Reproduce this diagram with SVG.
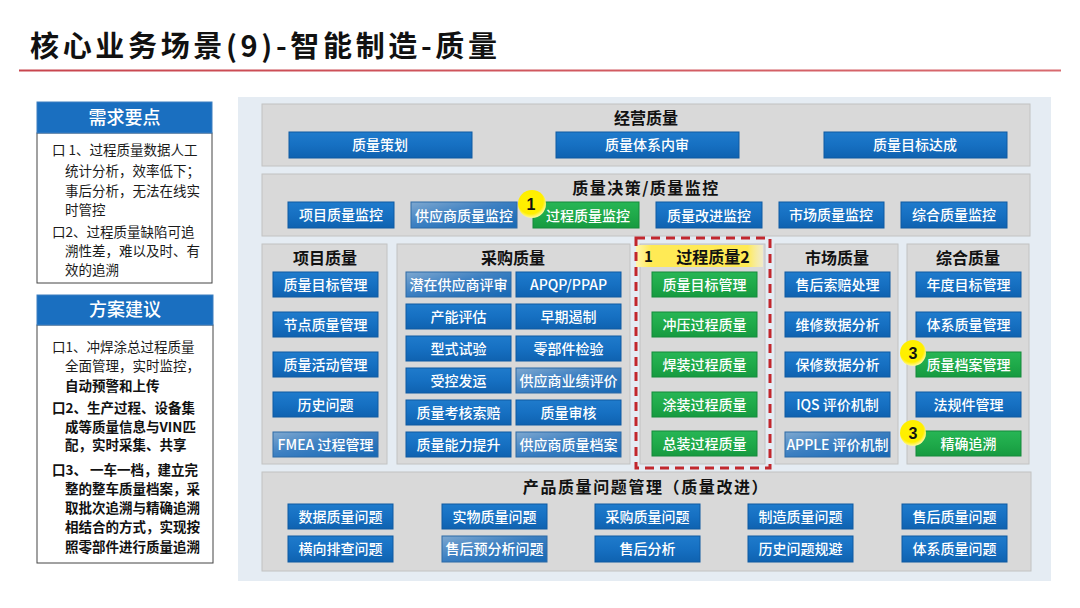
<svg xmlns="http://www.w3.org/2000/svg" width="1080" height="608" viewBox="0 0 1080 608">
<defs>
<linearGradient id="gb" x1="0" y1="0" x2="0" y2="1"><stop offset="0" stop-color="#1f7bcc"/><stop offset="0.5" stop-color="#1670c2"/><stop offset="1" stop-color="#0f62b0"/></linearGradient>
<linearGradient id="gg" x1="0" y1="0" x2="0" y2="1"><stop offset="0" stop-color="#27b655"/><stop offset="0.5" stop-color="#1faa4a"/><stop offset="1" stop-color="#169a40"/></linearGradient>
<linearGradient id="gl" x1="0" y1="0" x2="1" y2="1"><stop offset="0" stop-color="#7ea8d0"/><stop offset="0.45" stop-color="#3d80c2"/><stop offset="1" stop-color="#1668b4"/></linearGradient>
<linearGradient id="gy" x1="0" y1="0" x2="1" y2="0"><stop offset="0" stop-color="#fff6b0"/><stop offset="0.12" stop-color="#ffea55"/><stop offset="0.88" stop-color="#ffea55"/><stop offset="1" stop-color="#fff6c0" stop-opacity="0.6"/></linearGradient>
<radialGradient id="gc" cx="0.45" cy="0.4" r="0.6"><stop offset="0" stop-color="#fff200"/><stop offset="0.75" stop-color="#ffee00"/><stop offset="1" stop-color="#fff9a0"/></radialGradient>
<linearGradient id="gr" x1="0" y1="0" x2="1" y2="0"><stop offset="0" stop-color="#c8454e"/><stop offset="1" stop-color="#d86a6f"/></linearGradient>
</defs>
<style>
.f{font-family:"Noto Sans CJK SC","Liberation Sans",sans-serif}
.b{fill:url(#gb);stroke:#0e5aa2;stroke-width:1}
.g{fill:url(#gg);stroke:#148a3a;stroke-width:1}
.gl{fill:url(#gl);stroke:#2c6aa6;stroke-width:1}
.bt{font-family:"Noto Sans CJK SC","Liberation Sans",sans-serif;font-size:14px;fill:#fff;text-anchor:middle;font-weight:500}
.pt{font-family:"Noto Sans CJK SC","Liberation Sans",sans-serif;font-size:16px;fill:#111;text-anchor:middle;font-weight:700}
.panel{fill:#d9d9d9;stroke:#c2c2c2;stroke-width:1}
.lt{font-family:"Noto Sans CJK SC","Liberation Sans",sans-serif;font-size:13.5px;fill:#1a1a1a}
.ltb{font-family:"Noto Sans CJK SC","Liberation Sans",sans-serif;font-size:13.5px;fill:#111;font-weight:700}
.hd{fill:#1a6fc0;stroke:#3d7fc0;stroke-width:1}
.ht{font-family:"Noto Sans CJK SC","Liberation Sans",sans-serif;font-size:18px;fill:#fff;text-anchor:middle;font-weight:500}
.cn{font-family:"Liberation Sans",sans-serif;font-size:16px;font-weight:700;fill:#111;text-anchor:middle}
</style>
<rect width="1080" height="608" fill="#ffffff"/>
<g id="title">
<text class="f" x="30" y="57" font-size="29" font-weight="700" fill="#111" textLength="467" lengthAdjust="spacing">核心业务场景(9)-智能制造-质量</text>
<rect x="19" y="69.5" width="1042" height="2" fill="url(#gr)"/>
</g>
<g id="req">
<rect x="37" y="133" width="175" height="150" fill="#fff" stroke="#444" stroke-width="1"/>
<rect class="hd" x="37" y="102" width="175" height="31"/>
<text class="ht" x="124.5" y="123.5">需求要点</text>
<text class="lt" x="52" y="155">口 1、过程质量数据人工</text>
<text class="lt" x="65" y="176">统计分析，效率低下；</text>
<text class="lt" x="65" y="196">事后分析，无法在线实</text>
<text class="lt" x="65" y="215">时管控</text>
<text class="lt" x="52" y="237">口2、过程质量缺陷可追</text>
<text class="lt" x="65" y="256">溯性差，难以及时、有</text>
<text class="lt" x="65" y="275">效的追溯</text>
</g>
<g id="plan">
<rect x="37" y="325" width="176" height="238" fill="#fff" stroke="#444" stroke-width="1"/>
<rect class="hd" x="37" y="295" width="176" height="30"/>
<text class="ht" x="125" y="316">方案建议</text>
<text class="lt" x="52" y="352">口1、冲焊涂总过程质量</text>
<text class="lt" x="65" y="371">全面管理，实时监控，</text>
<text class="ltb" x="65" y="391">自动预警和上传</text>
<text class="ltb" x="52" y="413">口2、生产过程、设备集</text>
<text class="ltb" x="65" y="432">成等质量信息与VIN匹</text>
<text class="ltb" x="65" y="450">配，实时采集、共享</text>
<text class="ltb" x="52" y="475">口3、 一车一档，建立完</text>
<text class="ltb" x="65" y="494">整的整车质量档案，采</text>
<text class="ltb" x="65" y="513">取批次追溯与精确追溯</text>
<text class="ltb" x="65" y="532">相结合的方式，实现按</text>
<text class="ltb" x="65" y="552">照零部件进行质量追溯</text>
</g>
<rect x="238" y="97" width="813" height="484" fill="#e5ecf3"/>
<g id="sec-jy">
<rect class="panel" x="262" y="104" width="768" height="62"/>
<text class="pt" x="646" y="124">经营质量</text>
<g id="jy1"><rect class="b" x="289" y="132" width="183" height="26"/><text class="bt" x="380" y="150">质量策划</text></g>
<g id="jy2"><rect class="b" x="556" y="132" width="183" height="26"/><text class="bt" x="647" y="150">质量体系内审</text></g>
<g id="jy3"><rect class="b" x="824" y="132" width="183" height="26"/><text class="bt" x="915" y="150">质量目标达成</text></g>
</g>
<g id="sec-jc">
<rect class="panel" x="262" y="174" width="768" height="62"/>
<text class="pt" x="646" y="194" font-size="15" letter-spacing="1.5">质量决策/质量监控</text>
<g id="jc1"><rect class="b" x="288" y="202" width="106" height="26"/><text class="bt" x="341" y="220">项目质量监控</text></g>
<g id="jc2"><rect class="gl" x="411" y="202" width="106" height="26"/><text class="bt" x="464" y="221">供应商质量监控</text></g>
<g id="jc3"><rect class="g" x="533" y="202" width="106" height="26"/><text class="bt" x="588" y="221">过程质量监控</text></g>
<g id="jc4"><rect class="b" x="656" y="202" width="106" height="26"/><text class="bt" x="709" y="221">质量改进监控</text></g>
<g id="jc5"><rect class="b" x="779" y="202" width="105" height="26"/><text class="bt" x="831" y="220">市场质量监控</text></g>
<g id="jc6"><rect class="b" x="901" y="202" width="106" height="26"/><text class="bt" x="954" y="220">综合质量监控</text></g>
<g id="mk1"><circle cx="532" cy="204" r="14" fill="url(#gc)"/><text class="cn" x="531" y="210">1</text></g>
</g>
<g id="sec-xm">
<rect class="panel" x="262" y="244" width="125" height="220"/>
<text class="pt" x="325" y="264">项目质量</text>
<g id="xm1"><rect class="b" x="273" y="272" width="105" height="25"/><text class="bt" x="325.5" y="290">质量目标管理</text></g>
<g id="xm2"><rect class="b" x="273" y="312" width="105" height="25"/><text class="bt" x="325.5" y="330">节点质量管理</text></g>
<g id="xm3"><rect class="b" x="273" y="352" width="105" height="25"/><text class="bt" x="325.5" y="370">质量活动管理</text></g>
<g id="xm4"><rect class="b" x="273" y="392" width="105" height="25"/><text class="bt" x="325.5" y="410">历史问题</text></g>
<g id="xm5"><rect class="gl" x="273" y="432" width="105" height="25"/><text class="bt" x="325.5" y="450">FMEA  过程管理</text></g>
</g>
<g id="sec-cg">
<rect class="panel" x="397" y="244" width="233" height="220"/>
<text class="pt" x="513" y="264">采购质量</text>
<g id="cg1"><rect class="gl" x="406" y="272" width="105" height="25"/><text class="bt" x="458.5" y="290">潜在供应商评审</text></g>
<g id="cg2"><rect class="b" x="516" y="272" width="105" height="25"/><text class="bt" x="568.5" y="290" font-family="Liberation Serif,serif" font-weight="700">APQP/PPAP</text></g>
<g id="cg3"><rect class="b" x="406" y="304" width="105" height="25"/><text class="bt" x="458.5" y="322">产能评估</text></g>
<g id="cg4"><rect class="b" x="516" y="304" width="105" height="25"/><text class="bt" x="568.5" y="322">早期遏制</text></g>
<g id="cg5"><rect class="b" x="406" y="336" width="105" height="25"/><text class="bt" x="458.5" y="354">型式试验</text></g>
<g id="cg6"><rect class="b" x="516" y="336" width="105" height="25"/><text class="bt" x="568.5" y="354">零部件检验</text></g>
<g id="cg7"><rect class="b" x="406" y="368" width="105" height="25"/><text class="bt" x="458.5" y="386">受控发运</text></g>
<g id="cg8"><rect class="gl" x="516" y="368" width="105" height="25"/><text class="bt" x="568.5" y="386">供应商业绩评价</text></g>
<g id="cg9"><rect class="b" x="406" y="400" width="105" height="25"/><text class="bt" x="458.5" y="418">质量考核索赔</text></g>
<g id="cg10"><rect class="b" x="516" y="400" width="105" height="25"/><text class="bt" x="568.5" y="418">质量审核</text></g>
<g id="cg11"><rect class="b" x="406" y="432" width="105" height="25"/><text class="bt" x="458.5" y="450">质量能力提升</text></g>
<g id="cg12"><rect class="gl" x="516" y="432" width="105" height="25"/><text class="bt" x="568.5" y="450">供应商质量档案</text></g>
</g>
<g id="sec-gc">
<rect class="panel" x="640" y="244" width="125" height="220"/>
<rect x="636" y="245" width="127" height="22" fill="url(#gy)"/>
<text class="f" x="644" y="262" font-size="15" font-weight="700" fill="#111">1</text>
<text class="pt" x="713" y="263">过程质量2</text>
<g id="gc1"><rect class="g" x="652" y="272" width="105" height="25"/><text class="bt" x="704.5" y="290">质量目标管理</text></g>
<g id="gc2"><rect class="g" x="652" y="312" width="105" height="25"/><text class="bt" x="704.5" y="330">冲压过程质量</text></g>
<g id="gc3"><rect class="g" x="652" y="352" width="105" height="25"/><text class="bt" x="704.5" y="370">焊装过程质量</text></g>
<g id="gc4"><rect class="g" x="652" y="392" width="105" height="25"/><text class="bt" x="704.5" y="410">涂装过程质量</text></g>
<g id="gc5"><rect class="g" x="652" y="431" width="105" height="25"/><text class="bt" x="704.5" y="449">总装过程质量</text></g>
<rect x="636" y="238" width="134" height="230" fill="none" stroke="#c1272d" stroke-width="3" stroke-dasharray="9 6"/>
</g>
<g id="sec-sc">
<rect class="panel" x="775" y="244" width="123" height="220"/>
<text class="pt" x="837" y="264">市场质量</text>
<g id="sc1"><rect class="b" x="785" y="272" width="105" height="25"/><text class="bt" x="837.5" y="290">售后索赔处理</text></g>
<g id="sc2"><rect class="b" x="785" y="312" width="105" height="25"/><text class="bt" x="837.5" y="330">维修数据分析</text></g>
<g id="sc3"><rect class="b" x="785" y="352" width="105" height="25"/><text class="bt" x="837.5" y="370">保修数据分析</text></g>
<g id="sc4"><rect class="b" x="785" y="392" width="105" height="25"/><text class="bt" x="837.5" y="410">IQS 评价机制</text></g>
<g id="sc5"><rect class="gl" x="785" y="432" width="105" height="25"/><text class="bt" x="837.5" y="450">APPLE 评价机制</text></g>
</g>
<g id="sec-zh">
<rect class="panel" x="907" y="244" width="122" height="220"/>
<text class="pt" x="968" y="264">综合质量</text>
<g id="zh1"><rect class="b" x="916" y="272" width="105" height="25"/><text class="bt" x="968.5" y="290">年度目标管理</text></g>
<g id="zh2"><rect class="b" x="916" y="312" width="105" height="25"/><text class="bt" x="968.5" y="330">体系质量管理</text></g>
<g id="zh3"><rect class="g" x="916" y="352" width="105" height="25"/><text class="bt" x="968.5" y="370">质量档案管理</text></g>
<g id="zh4"><rect class="b" x="916" y="392" width="105" height="25"/><text class="bt" x="968.5" y="410">法规件管理</text></g>
<g id="zh5"><rect class="g" x="916" y="431" width="105" height="25"/><text class="bt" x="968.5" y="449">精确追溯</text></g>
<g id="mk3a"><circle cx="913" cy="353" r="13" fill="url(#gc)"/><text class="cn" x="913" y="359">3</text></g>
<g id="mk3b"><circle cx="913" cy="433" r="13" fill="url(#gc)"/><text class="cn" x="913" y="439">3</text></g>
</g>
<g id="sec-cp">
<rect class="panel" x="262" y="472" width="769" height="99"/>
<text class="pt" x="646" y="493" font-size="14" letter-spacing="1.6">产品质量问题管理（质量改进）</text>
<g id="cp1"><rect class="b" x="288" y="504" width="105" height="25"/><text class="bt" x="340.5" y="522">数据质量问题</text></g>
<g id="cp2"><rect class="b" x="442" y="504" width="105" height="25"/><text class="bt" x="494.5" y="522">实物质量问题</text></g>
<g id="cp3"><rect class="b" x="595" y="504" width="105" height="25"/><text class="bt" x="647.5" y="522">采购质量问题</text></g>
<g id="cp4"><rect class="b" x="748" y="504" width="105" height="25"/><text class="bt" x="800.5" y="522">制造质量问题</text></g>
<g id="cp5"><rect class="b" x="902" y="504" width="105" height="25"/><text class="bt" x="954.5" y="522">售后质量问题</text></g>
<g id="cp6"><rect class="b" x="288" y="536" width="105" height="26"/><text class="bt" x="340.5" y="554">横向排查问题</text></g>
<g id="cp7"><rect class="gl" x="442" y="536" width="105" height="26"/><text class="bt" x="494.5" y="554">售后预分析问题</text></g>
<g id="cp8"><rect class="b" x="595" y="536" width="105" height="26"/><text class="bt" x="647.5" y="554">售后分析</text></g>
<g id="cp9"><rect class="b" x="748" y="536" width="105" height="26"/><text class="bt" x="800.5" y="554">历史问题规避</text></g>
<g id="cp10"><rect class="b" x="902" y="536" width="105" height="26"/><text class="bt" x="954.5" y="554">体系质量问题</text></g>
</g>
<g id="connectors"/>
</svg>
